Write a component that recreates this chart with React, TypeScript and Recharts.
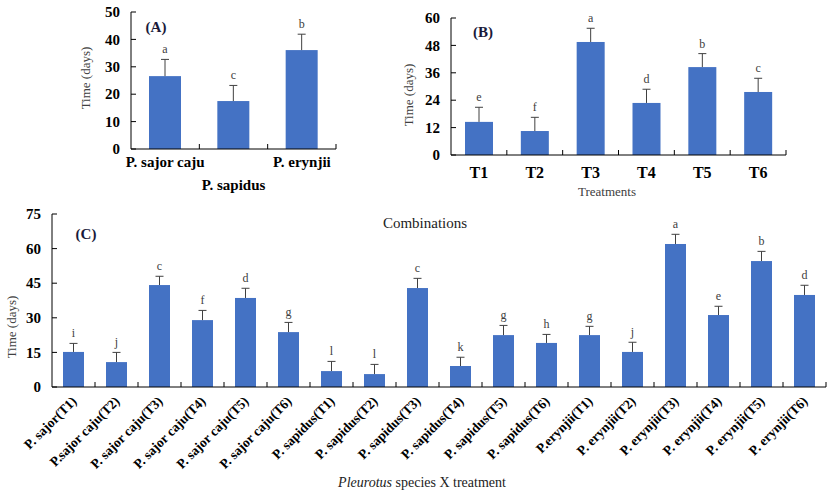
import React from 'react';
import { Bar, BarChart, XAxis, YAxis } from 'recharts';

// (A) species
const speciesA = ['P. sajor caju', 'P. sapidus', 'P. erynjii'];
const meanA = [26.6, 17.5, 36.1];
const sdA = [6.1, 5.7, 5.8];
const letterA = ['a', 'c', 'b'];
const ticksA = [0, 10, 20, 30, 40, 50];

// (B) treatments
const treatmentsB = ['T1', 'T2', 'T3', 'T4', 'T5', 'T6'];
const meanB = [14.5, 10.5, 49.5, 22.8, 38.5, 27.6];
const sdB = [6.4, 6.0, 6.0, 6.0, 5.9, 6.0];
const letterB = ['e', 'f', 'a', 'd', 'b', 'c'];
const ticksB = [0, 12, 24, 36, 48, 60];

// (C) combinations
const comboC = [
  'P. sajor(T1)', 'P.sajor caju(T2)', 'P. sajor caju(T3)', 'P. sajor caju(T4)', 'P. sajor caju(T5)', 'P. sajor caju(T6)',
  'P. sapidus(T1)', 'P. sapidus(T2)', 'P. sapidus(T3)', 'P. sapidus(T4)', 'P. sapidus(T5)', 'P. sapidus(T6)',
  'P.erynjii(T1)', 'P. erynjii(T2)', 'P. erynjii(T3)', 'P. erynjii(T4)', 'P. erynjii(T5)', 'P. erynjii(T6)',
];
const meanC = [15.2, 10.8, 44.2, 29.0, 38.6, 23.8, 6.9, 5.6, 42.9, 9.1, 22.5, 19.1, 22.5, 15.2, 62.0, 31.2, 54.6, 39.9];
const sdC = [3.7, 4.2, 3.8, 4.2, 4.2, 4.2, 4.2, 4.2, 4.2, 3.8, 4.2, 3.7, 3.8, 4.2, 4.2, 3.8, 4.2, 4.2];
const letterC = ['i', 'j', 'c', 'f', 'd', 'g', 'l', 'l', 'c', 'k', 'g', 'h', 'g', 'j', 'a', 'e', 'b', 'd'];
const ticksC = [0, 15, 30, 45, 60, 75];

const build = (names: string[], mean: number[], sd: number[], letters: string[]) =>
  names.map((name, i) => ({ name, value: mean[i], sd: sd[i], letter: letters[i] }));

const dataA = build(speciesA, meanA, sdA, letterA);
const dataB = build(treatmentsB, meanB, sdB, letterB);
const dataC = build(comboC, meanC, sdC, letterC);

const SERIF = '"Liberation Serif", "Times New Roman", serif';
const BLUE = '#4472C4';
const GREY = '#404040';

// bar + upper error whisker + significance letter
function BarWithError(props: any) {
  const { x, y, width, height, payload } = props;
  const perUnit = payload.value ? height / payload.value : 0;
  const top = y - payload.sd * perUnit;
  const cx = x + width / 2;
  return (
    <g>
      <rect x={x} y={y} width={width} height={height} fill={BLUE} />
      <line x1={cx} x2={cx} y1={y} y2={top} stroke={GREY} strokeWidth={1} />
      <line x1={cx - 4} x2={cx + 4} y1={top} y2={top} stroke={GREY} strokeWidth={1} />
      <text x={cx} y={top - 6} textAnchor="middle" fontFamily={SERIF} fontSize={12} fill={GREY}>
        {payload.letter}
      </text>
    </g>
  );
}

function ValueTick(props: any) {
  const { x, y, payload } = props;
  return (
    <g>
      <line x1={x} x2={x + 5} y1={y} y2={y} stroke="#000" />
      <text x={x - 11} y={y} dy="0.35em" textAnchor="end" fontFamily={SERIF} fontSize={15} fontWeight="bold" fill="#000">
        {payload.value}
      </text>
    </g>
  );
}

function CategoryTick(props: any) {
  const { x, y, payload, index, half, mode } = props;
  let label;
  if (mode === 'rot') {
    const ax = x + 4;
    const ay = y + 15;
    label = (
      <text x={ax} y={ay} transform={`rotate(-45, ${ax}, ${ay})`} textAnchor="end"
        fontFamily={SERIF} fontSize={13.5} fontWeight="bold" fill="#000">
        {payload.value}
      </text>
    );
  } else {
    const dy = mode === 'stagger' && index % 2 === 1 ? 41 : mode === 'stagger' ? 18 : 23;
    label = (
      <text x={x} y={y + dy} textAnchor="middle" fontFamily={SERIF} fontSize={mode === 'stagger' ? 15 : 16}
        fontWeight="bold" fill="#000">
        {payload.value}
      </text>
    );
  }
  return (
    <g>
      <line x1={x + half} x2={x + half} y1={y} y2={y - 5} stroke="#000" />
      {label}
    </g>
  );
}

function YTitle(props: any) {
  const { cx, cy } = props;
  return (
    <text x={cx} y={cy} dy="0.35em" transform={`rotate(-90, ${cx}, ${cy})`} textAnchor="middle"
      fontFamily={SERIF} fontSize={13} fill={GREY}>
      Time (days)
    </text>
  );
}

export default function App() {
  return (
    <div style={{ position: 'absolute', left: 0, top: 0, width: 838, height: 498, background: '#fff', fontFamily: SERIF }}>
      <div style={{ position: 'absolute', left: 0, top: 0 }}>
        <BarChart width={345} height={200} data={dataA} margin={{ top: 12, right: 9, bottom: 0, left: 39 }}>
          <XAxis dataKey="name" height={51} stroke="#000" tickLine={false} tickSize={0} tickMargin={0} interval={0}
            tick={<CategoryTick half={205 / 6} mode="stagger" />} />
          <YAxis width={92} domain={[0, 50]} ticks={ticksA} stroke="#000" tickLine={false} tickSize={0} tickMargin={0}
            tick={<ValueTick />} label={<YTitle cx={85} cy={78} />} />
          <Bar dataKey="value" barSize={32} isAnimationActive={false} shape={<BarWithError />} />
          <text x={156} y={32} textAnchor="middle" fontFamily={SERIF} fontSize={15} fontWeight="bold" fill="#1a1a3a">(A)</text>
        </BarChart>
      </div>

      <div style={{ position: 'absolute', left: 350, top: 0 }}>
        <BarChart width={450} height={200} data={dataB} margin={{ top: 18, right: 14, bottom: 0, left: 15 }}>
          <XAxis dataKey="name" height={45} stroke="#000" tickLine={false} tickSize={0} tickMargin={0} interval={0}
            tick={<CategoryTick half={335 / 12} mode="plain" />} />
          <YAxis width={86} domain={[0, 60]} ticks={ticksB} stroke="#000" tickLine={false} tickSize={0} tickMargin={0}
            tick={<ValueTick />} label={<YTitle cx={58} cy={95} />} />
          <Bar dataKey="value" barSize={28} isAnimationActive={false} shape={<BarWithError />} />
          <text x={133} y={37} textAnchor="middle" fontFamily={SERIF} fontSize={15} fontWeight="bold" fill="#1a1a3a">(B)</text>
          <text x={257} y={196} textAnchor="middle" fontFamily={SERIF} fontSize={13} fill={GREY}>Treatments</text>
        </BarChart>
      </div>

      <div style={{ position: 'absolute', left: 0, top: 200 }}>
        <BarChart width={838} height={298} data={dataC} margin={{ top: 14, right: 12, bottom: 0, left: 0 }}>
          <XAxis dataKey="name" height={111} stroke="#000" tickLine={false} tickSize={0} tickMargin={0} interval={0}
            tick={<CategoryTick half={774 / 36} mode="rot" />} />
          <YAxis width={52} domain={[0, 75]} ticks={ticksC} stroke="#000" tickLine={false} tickSize={0} tickMargin={0}
            tick={<ValueTick />} label={<YTitle cx={11} cy={127} />} />
          <Bar dataKey="value" barSize={21} isAnimationActive={false} shape={<BarWithError />} />
          <text x={86} y={39} textAnchor="middle" fontFamily={SERIF} fontSize={15} fontWeight="bold" fill="#1a1a3a">(C)</text>
          <text x={425} y={28} textAnchor="middle" fontFamily={SERIF} fontSize={15} fill="#222">Combinations</text>
          <text x={422} y={287} textAnchor="middle" fontFamily={SERIF} fontSize={14} fill="#222">
            <tspan fontStyle="italic">Pleurotus</tspan> species X treatment
          </text>
        </BarChart>
      </div>
    </div>
  );
}
